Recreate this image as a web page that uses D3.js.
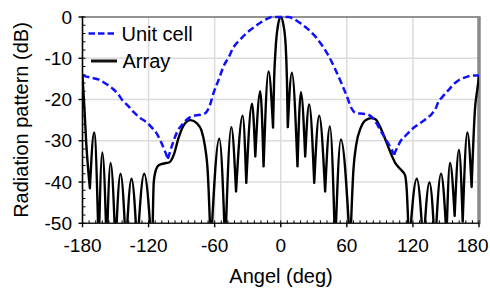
<!DOCTYPE html>
<html>
<head>
<meta charset="utf-8">
<script src="https://cdn.jsdelivr.net/npm/d3@7"></script>
<style>
  html, body { margin: 0; padding: 0; background: #fff; }
  svg { display: block; }
  text { font-family: "Liberation Sans", Arial, Helvetica, sans-serif; fill: #000; }
</style>
</head>
<body>
<svg id="chart" width="490" height="289"></svg>
<script>
// ---------------- data ----------------
const angleTicks = [-180, -120, -60, 0, 60, 120, 180];
const dbTicks = [0, -10, -20, -30, -40, -50];
const seriesNames = ["Unit cell", "Array"];

const unitAngle = [-180, -172, -165, -158, -152, -148, -144, -138, -133, -128, -122, -117, -112, -109, -105.5, -102.5,
  -98.5, -94, -89.3, -85.5, -80, -73, -68, -64.5, -61, -56.5, -52, -47, -43, -37, -30.6, -25, -18.6, -12, -8, 0, 7, 12,
  19.2, 25, 31.3, 36.5, 41.9, 46.5, 50.9, 55.5, 60, 64, 67.5, 72, 77, 81, 84, 87, 90.2, 95, 100, 102.9,
  106, 109, 112.9, 116, 120.4, 125, 131, 134, 138, 141.6, 143, 146, 152, 158.2, 164, 169, 173.3, 180];
const unitDB = [-14.2, -14.7, -15.2, -16.3, -17.5, -18.6, -20.1, -21.7, -23.2, -24.4, -25.5, -26.8, -28.5, -30.1, -32.3, -34.4,
  -31, -27.8, -26, -24.9, -24.0, -23.7, -23.2, -21.5, -18.4, -15.3, -12, -9.6, -7.4, -5.5, -3.8, -2.6, -1.4, -0.4, 0, 0, 0, -0.5,
  -1.8, -3.0, -4.7, -6.5, -8.7, -11, -13.5, -16.3, -19.2, -22, -23.2, -23.4, -23.5, -23.9, -24.6, -25.8, -27.3, -29.5, -31.8, -33.4,
  -31.5, -30.0, -28.9, -28.0, -26.9, -26.0, -24.9, -24.3, -23.2, -21.6, -20.6, -19.6, -17.8, -16, -15, -14.5, -14.2, -14.2];

const arrayAngle = [-180, -178.5, -176.5, -173.3, -169.4, -165.3, -162, -158, -154.5, -150, -145.5, -140.5, -135.5, -130.3, -124,
  -116.7, -115.3, -113, -110.5, -106, -101, -97, -93, -88, -82, -76, -72, -69, -66.3, -63.5,
  -55.8, -50.4, -44.9, -40.6, -34.6, -31.3, -26.1, -23.1, -18.6, -15.6, -11.1, -7,
  -6, -4.5, -2.5, 0, 2.5, 4.5, 5.6,
  6.4, 10.1, 15.2, 18.3, 22.2, 25.8, 30.4, 34.9, 40.3, 44.6, 49.4, 54.6, 63,
  66, 68.5, 72.7, 77, 82.5, 86, 90, 94.7, 100.8, 103.8, 108.3, 112.9, 114.4, 116.5,
  123.5, 129.5, 135, 140.1, 145.5, 150.5, 153.7, 157.9, 161.8, 165.2, 169.4, 173.3, 176.3, 178.5, 180];
const arrayDB = [-14.5, -21, -31, -41.5, -28, -56, -32.8, -56, -35.4, -56, -38, -56, -39.2, -56, -38,
  -58, -40, -36.8, -35.9, -35.5, -35.2, -33.3, -29.5, -26.2, -25, -25.8, -27.5, -31, -37.5, -56,
  -29.5, -56, -26.7, -42.3, -23.9, -40.2, -21, -33.8, -18, -36.2, -13.2, -26.8,
  -15, -7, -2, 0, -2, -7, -15,
  -26.7, -13.5, -36.2, -18.2, -33.8, -21.2, -40.2, -23.9, -42.3, -26.5, -56, -29.7, -56,
  -37, -31, -26.8, -25, -24.5, -24.8, -26.5, -29.5, -33.6, -35.3, -36.8, -38.4, -42, -56,
  -39.2, -56, -40.1, -56, -38, -53, -35.4, -48.2, -32.2, -49.6, -28, -41.2, -22.5, -17.5, -14.4];

// ---------------- layout ----------------
const W = 490, H = 289;
const plot = { left: 82.5, right: 479, top: 17, bottom: 223.3 };
const svg = d3.select("#chart");

const x = d3.scaleLinear().domain([-180, 180]).range([plot.left, plot.right]);
const y = d3.scaleLinear().domain([-50, 0]).range([plot.bottom, plot.top]);

// clip
svg.append("defs").append("clipPath").attr("id", "clip")
  .append("rect").attr("x", plot.left).attr("y", plot.top - 6)
  .attr("width", plot.right - plot.left).attr("height", plot.bottom - plot.top + 6);

// gridlines
const grid = svg.append("g");
grid.selectAll("line.gx").data(angleTicks.slice(1, -1)).join("line")
  .attr("x1", d => x(d)).attr("x2", d => x(d))
  .attr("y1", plot.top).attr("y2", plot.bottom)
  .attr("stroke", "#dcdcdc").attr("stroke-width", 1.5);
grid.selectAll("line.gy").data(dbTicks.slice(1, -1)).join("line")
  .attr("x1", plot.left).attr("x2", plot.right)
  .attr("y1", d => y(d)).attr("y2", d => y(d))
  .attr("stroke", "#dcdcdc").attr("stroke-width", 1.5);

// frame (top + right)
svg.append("line").attr("x1", plot.left).attr("x2", plot.right + 1.5)
  .attr("y1", plot.top).attr("y2", plot.top).attr("stroke", "#6e6e6e").attr("stroke-width", 1.6);
svg.append("line").attr("x1", plot.right).attr("x2", plot.right)
  .attr("y1", plot.top).attr("y2", plot.bottom + 1).attr("stroke", "#8a8a8a").attr("stroke-width", 3.5);

// split a series at its local minima (nulls are cusps)
function segments(xs, ys) {
  const segs = [];
  let cur = [[xs[0], ys[0]]];
  for (let i = 1; i < xs.length; i++) {
    cur.push([xs[i], ys[i]]);
    if (i < xs.length - 1 && ys[i] < ys[i - 1] && ys[i] < ys[i + 1]) {
      segs.push(cur);
      cur = [[xs[i], ys[i]]];
    }
  }
  segs.push(cur);
  return segs;
}
const line = d3.line().x(d => x(d[0])).y(d => y(d[1])).curve(d3.curveMonotoneX);
const pathOf = (xs, ys) => segments(xs, ys).map(s => line(s)).join("");

const curves = svg.append("g").attr("clip-path", "url(#clip)");
curves.append("path").attr("d", pathOf(arrayAngle, arrayDB))
  .attr("fill", "none").attr("stroke", "#000").attr("stroke-width", 2.4)
  .attr("stroke-linejoin", "round").attr("stroke-linecap", "round");
curves.append("path").attr("d", pathOf(unitAngle, unitDB))
  .attr("fill", "none").attr("stroke", "#1010ff").attr("stroke-width", 2.5)
  .attr("stroke-dasharray", "7,3.5");

// axes lines
svg.append("line").attr("x1", plot.left).attr("x2", plot.left)
  .attr("y1", plot.top - 0.8).attr("y2", plot.bottom).attr("stroke", "#000").attr("stroke-width", 1.6);
svg.append("line").attr("x1", plot.left).attr("x2", plot.right)
  .attr("y1", plot.bottom).attr("y2", plot.bottom).attr("stroke", "#222").attr("stroke-width", 1.6);

// minor ticks (inside)
const minorY = d3.range(-50, 0.1, 2);
svg.append("g").selectAll("line").data(minorY).join("line")
  .attr("x1", plot.left).attr("x2", plot.left + 3)
  .attr("y1", d => y(d)).attr("y2", d => y(d)).attr("stroke", "#000").attr("stroke-width", 1);
const minorX = d3.range(-180, 180.1, 6);
svg.append("g").selectAll("line").data(minorX).join("line")
  .attr("x1", d => x(d)).attr("x2", d => x(d))
  .attr("y1", plot.bottom).attr("y2", plot.bottom - 3).attr("stroke", "#000").attr("stroke-width", 1);

// major ticks (outside)
svg.append("g").selectAll("line").data(dbTicks).join("line")
  .attr("x1", plot.left - 4).attr("x2", plot.left)
  .attr("y1", d => y(d)).attr("y2", d => y(d)).attr("stroke", "#000").attr("stroke-width", 1.4);
svg.append("g").selectAll("line").data(angleTicks).join("line")
  .attr("x1", d => x(d)).attr("x2", d => x(d))
  .attr("y1", plot.bottom).attr("y2", plot.bottom + 4).attr("stroke", "#000").attr("stroke-width", 1.4);

// tick labels
svg.append("g").selectAll("text").data(dbTicks).join("text")
  .attr("x", 72).attr("y", d => y(d)).attr("dy", "0.35em")
  .attr("text-anchor", "end").attr("font-size", 19).text(d => d);
svg.append("g").selectAll("text").data(angleTicks).join("text")
  .attr("x", d => d === 180 ? 488.5 : x(d)).attr("y", 251.5)
  .attr("text-anchor", d => d === 180 ? "end" : "middle").attr("font-size", 19).text(d => d);

// axis titles
svg.append("text").attr("x", 281).attr("y", 282.5).attr("text-anchor", "middle")
  .attr("font-size", 20).text("Angel (deg)");
svg.append("text").attr("transform", "translate(27.5,120) rotate(-90)")
  .attr("text-anchor", "middle").attr("font-size", 20).text("Radiation pattern (dB)");

// legend
const lg = svg.append("g");
lg.append("line").attr("x1", 88.5).attr("x2", 114).attr("y1", 33.5).attr("y2", 33.5)
  .attr("stroke", "#1010ff").attr("stroke-width", 2.5).attr("stroke-dasharray", "6.5,3");
lg.append("text").attr("x", 121.5).attr("y", 40.5).attr("font-size", 20).text(seriesNames[0]);
lg.append("line").attr("x1", 91).attr("x2", 117).attr("y1", 61).attr("y2", 61)
  .attr("stroke", "#111").attr("stroke-width", 3);
lg.append("text").attr("x", 122.5).attr("y", 68).attr("font-size", 20).text(seriesNames[1]);
</script>
</body>
</html>
